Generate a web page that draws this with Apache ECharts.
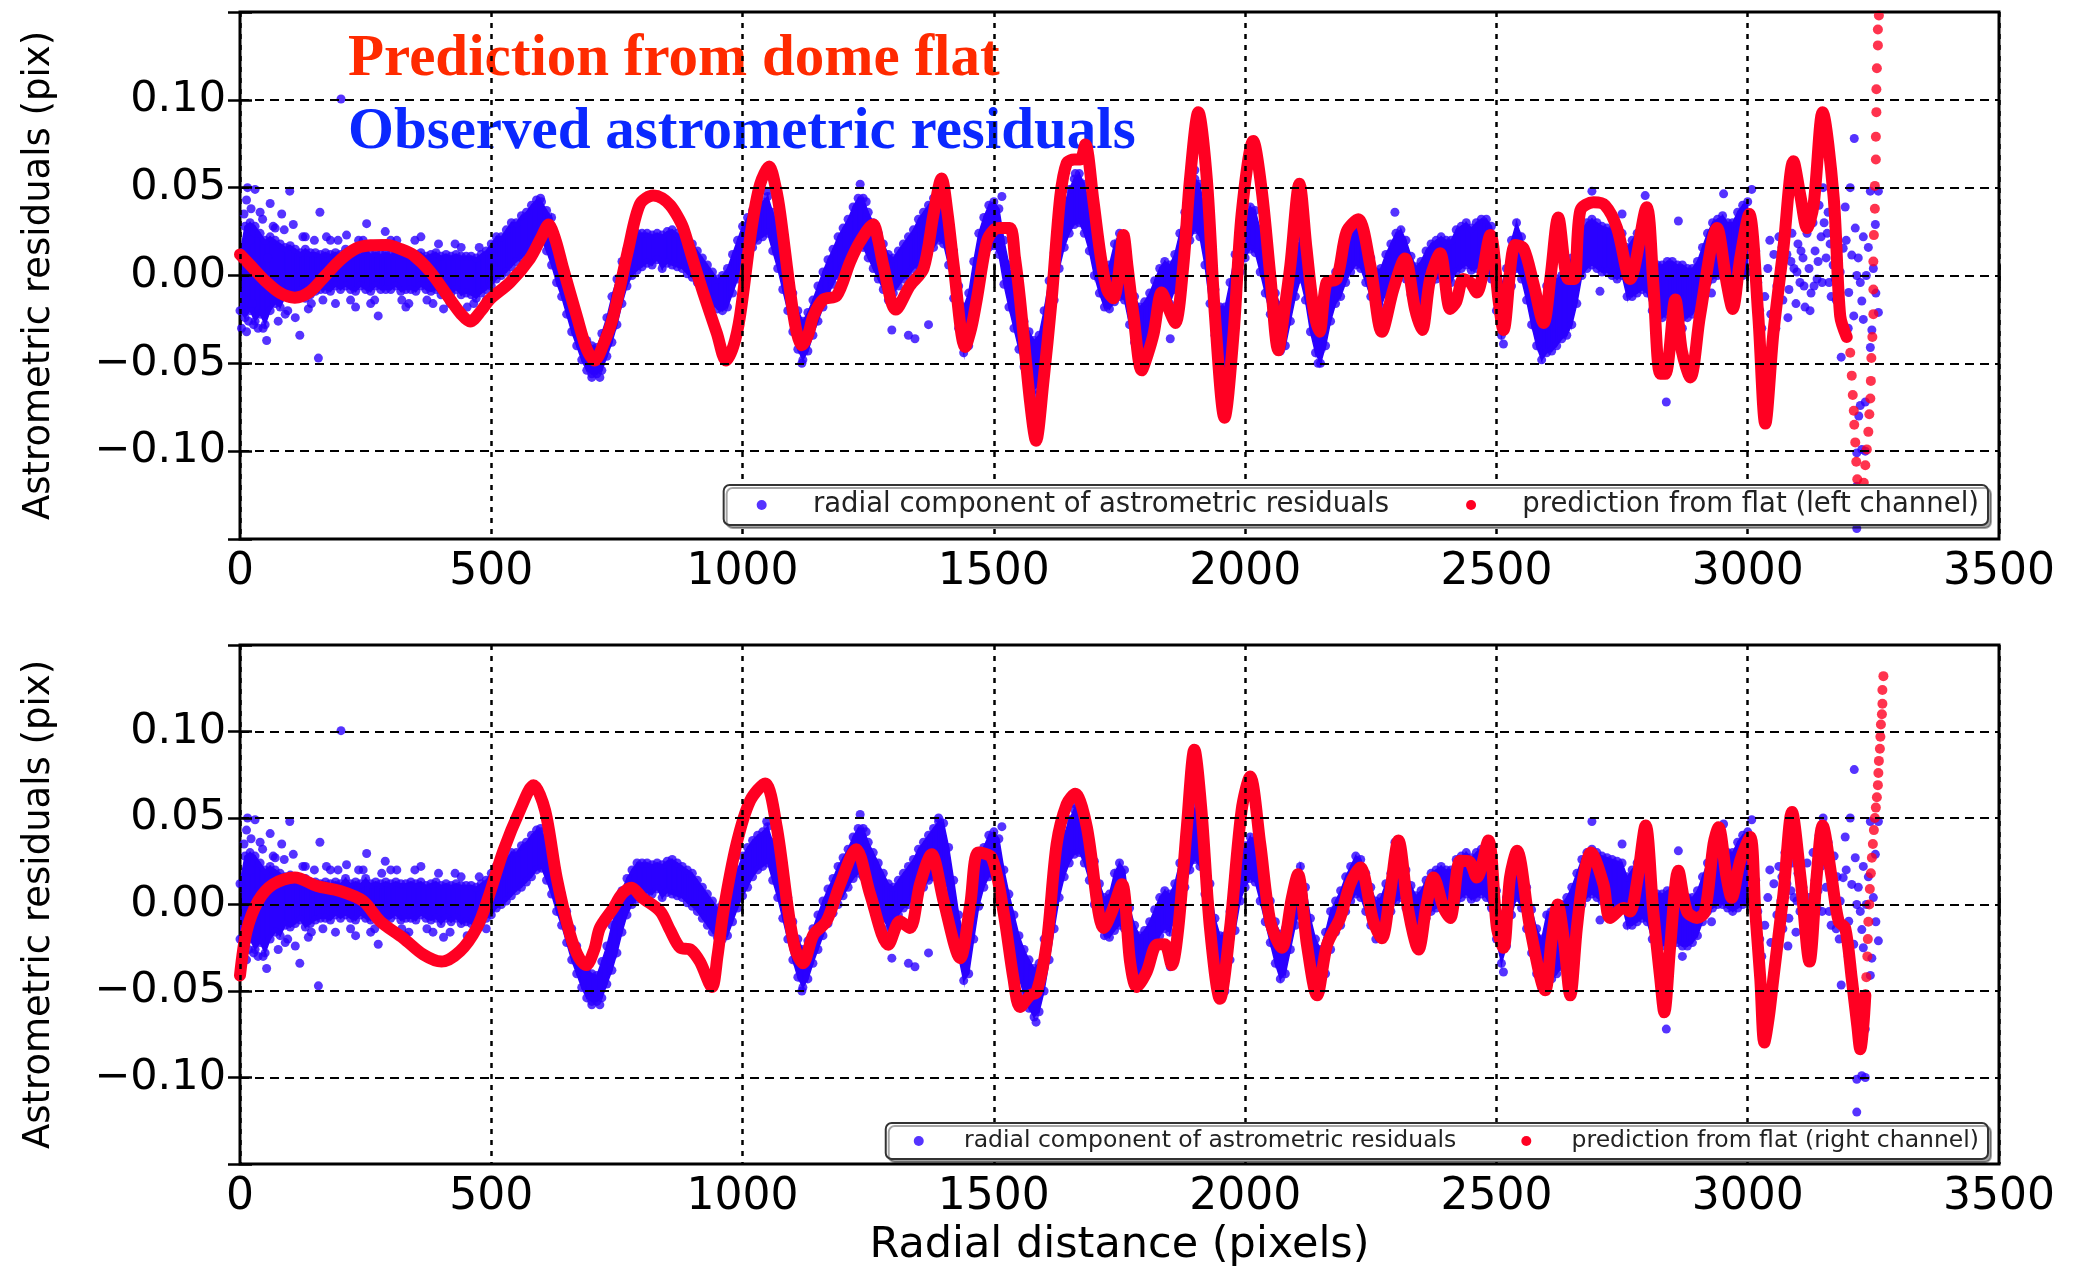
<!DOCTYPE html>
<html>
<head>
<meta charset="utf-8">
<script src="https://cdn.jsdelivr.net/npm/echarts@6.0.0/dist/echarts.min.js"></script>
<style>
html,body{margin:0;padding:0;background:#fff;}
#chart{width:2077px;height:1268px;}
</style>
</head>
<body>
<div id="chart"></div>
<script>
// ---------- axis ticks ----------
const xTicks = [0, 500, 1000, 1500, 2000, 2500, 3000, 3500];
const yTickLabels = ['\u22120.10', '\u22120.05', '0.00', '0.05', '0.10'];

// ---------- observed residuals (blue): dense band, outer edges per column ----------
const bandX = [0,10,20,30,40,50,60,70,80,90,100,110,120,130,140,150,160,170,180,190,200,210,220,230,240,250,260,270,280,290,300,310,320,330,340,350,360,370,380,390,400,410,420,430,440,450,460,470,480,490,500,510,520,530,540,550,560,570,580,590,600,610,620,630,640,650,660,670,680,690,700,710,720,730,740,750,760,770,780,790,800,810,820,830,840,850,860,870,880,890,900,910,920,930,940,950,960,970,980,990,1000,1010,1020,1030,1040,1050,1060,1070,1080,1090,1100,1110,1120,1130,1140,1150,1160,1170,1180,1190,1200,1210,1220,1230,1240,1250,1260,1270,1280,1290,1300,1310,1320,1330,1340,1350,1360,1370,1380,1390,1400,1410,1420,1430,1440,1450,1460,1470,1480,1490,1500,1510,1520,1530,1540,1550,1560,1570,1580,1590,1600,1610,1620,1630,1640,1650,1660,1670,1680,1690,1700,1710,1720,1730,1740,1750,1760,1770,1780,1790,1800,1810,1820,1830,1840,1850,1860,1870,1880,1890,1900,1910,1920,1930,1940,1950,1960,1970,1980,1990,2000,2010,2020,2030,2040,2050,2060,2070,2080,2090,2100,2110,2120,2130,2140,2150,2160,2170,2180,2190,2200,2210,2220,2230,2240,2250,2260,2270,2280,2290,2300,2310,2320,2330,2340,2350,2360,2370,2380,2390,2400,2410,2420,2430,2440,2450,2460,2470,2480,2490,2500,2510,2520,2530,2540,2550,2560,2570,2580,2590,2600,2610,2620,2630,2640,2650,2660,2670,2680,2690,2700,2710,2720,2730,2740,2750,2760,2770,2780,2790,2800,2810,2820,2830,2840,2850,2860,2870,2880,2890,2900,2910,2920,2930,2940,2950,2960,2970,2980,2990,3000];
const bandHi = [
0.012,0.028,0.03,0.028,0.024,0.02,0.022,0.02,0.018,0.016,
0.017,0.015,0.013,0.015,0.013,0.013,0.012,0.013,0.012,0.013,
0.012,0.015,0.012,0.013,0.012,0.015,0.012,0.013,0.012,0.013,
0.012,0.013,0.012,0.012,0.013,0.012,0.013,0.011,0.012,0.013,
0.011,0.012,0.011,0.012,0.011,0.011,0.011,0.01,0.012,0.014,
0.018,0.022,0.022,0.026,0.03,0.03,0.034,0.036,0.04,0.043,
0.042,0.037,0.033,0.02,0.006,-0.004,-0.014,-0.024,-0.032,-0.037,
-0.04,-0.041,-0.033,-0.024,-0.012,-0.002,0.008,0.015,0.02,0.024,
0.024,0.024,0.023,0.024,0.023,0.025,0.026,0.024,0.022,0.02,
0.018,0.014,0.01,0.006,0.002,-0.002,0.0,0.004,0.012,0.02,
0.028,0.033,0.037,0.04,0.042,0.045,0.036,0.028,0.016,0.004,
-0.01,-0.02,-0.026,-0.021,-0.014,-0.006,0.002,0.009,0.015,0.022,
0.027,0.032,0.039,0.044,0.044,0.036,0.03,0.024,0.018,0.012,
0.01,0.014,0.018,0.022,0.026,0.032,0.036,0.04,0.044,0.048,
0.047,0.033,0.014,-0.006,-0.018,-0.01,0.008,0.024,0.033,0.04,
0.042,0.038,0.02,0.006,-0.006,-0.018,-0.026,-0.032,-0.037,-0.034,
-0.02,-0.003,0.013,0.028,0.04,0.049,0.055,0.058,0.052,0.04,
0.025,0.012,0.004,0.006,0.018,0.024,0.02,-0.002,-0.012,-0.018,
-0.015,-0.01,-0.003,0.004,0.008,0.006,0.012,0.024,0.036,0.046,
0.055,0.052,0.034,0.012,-0.008,-0.018,-0.018,-0.004,0.012,0.026,
0.034,0.039,0.037,0.026,0.014,0.002,-0.01,-0.017,-0.014,-0.002,
0.012,0.022,0.01,-0.008,-0.02,-0.026,-0.016,-0.004,0.002,0.008,
0.016,0.022,0.028,0.026,0.018,0.01,0.002,0.004,0.012,0.018,
0.024,0.026,0.02,0.011,0.005,0.008,0.014,0.018,0.02,0.022,
0.02,0.02,0.026,0.028,0.03,0.027,0.03,0.032,0.032,0.028,
0.008,-0.006,0.004,0.02,0.03,0.022,0.01,-0.003,-0.014,-0.02,
-0.006,-0.004,-0.002,0.0,0.004,0.01,0.018,0.026,0.03,0.032,
0.03,0.028,0.027,0.026,0.025,0.024,0.016,0.02,0.024,0.026,
0.016,0.008,0.006,0.006,0.008,0.008,0.006,0.006,0.004,0.004,
0.008,0.016,0.024,0.03,0.032,0.034,0.03,0.03,0.036,0.04,
0.042];
const bandLo = [
-0.02,-0.024,-0.02,-0.026,-0.022,-0.028,-0.02,-0.016,-0.018,-0.012,
-0.013,-0.011,-0.009,-0.013,-0.011,-0.009,-0.008,-0.008,-0.009,-0.006,
-0.008,-0.006,-0.008,-0.009,-0.006,-0.008,-0.009,-0.006,-0.008,-0.008,
-0.008,-0.006,-0.009,-0.008,-0.008,-0.009,-0.006,-0.008,-0.009,-0.008,
-0.011,-0.008,-0.01,-0.008,-0.011,-0.01,-0.011,-0.013,-0.01,-0.008,
-0.006,-0.002,0.0,0.002,0.005,0.008,0.01,0.013,0.016,0.02,
0.021,0.014,0.006,-0.004,-0.012,-0.022,-0.032,-0.04,-0.048,-0.054,
-0.056,-0.056,-0.054,-0.046,-0.038,-0.028,-0.016,-0.006,0.0,0.003,
0.005,0.007,0.006,0.009,0.004,0.007,0.006,0.005,0.004,0.001,
-0.001,-0.004,-0.008,-0.012,-0.016,-0.019,-0.02,-0.018,-0.01,-0.002,
0.005,0.01,0.016,0.02,0.022,0.024,0.014,0.004,-0.008,-0.02,
-0.032,-0.042,-0.048,-0.043,-0.034,-0.026,-0.018,-0.011,-0.005,0.0,
0.005,0.01,0.015,0.018,0.016,0.01,0.004,-0.002,-0.008,-0.014,
-0.01,-0.006,-0.002,0.0,0.004,0.006,0.01,0.014,0.016,0.02,
0.018,0.006,-0.013,-0.03,-0.044,-0.04,-0.02,-0.001,0.01,0.016,
0.017,0.012,-0.005,-0.018,-0.03,-0.042,-0.052,-0.06,-0.065,-0.062,
-0.05,-0.032,-0.014,0.004,0.016,0.024,0.029,0.03,0.024,0.014,
0.0,-0.01,-0.018,-0.019,-0.015,-0.012,-0.014,-0.028,-0.038,-0.046,
-0.042,-0.033,-0.026,-0.018,-0.014,-0.016,-0.008,0.002,0.01,0.02,
0.026,0.022,0.006,-0.016,-0.034,-0.046,-0.05,-0.032,-0.015,0.002,
0.01,0.015,0.013,0.002,-0.01,-0.022,-0.034,-0.043,-0.04,-0.026,
-0.012,-0.002,-0.014,-0.032,-0.044,-0.05,-0.04,-0.026,-0.016,-0.012,
-0.004,0.002,0.006,0.004,-0.004,-0.012,-0.02,-0.018,-0.01,-0.004,
0.002,0.004,-0.002,-0.011,-0.017,-0.016,-0.008,-0.004,-0.002,0.0,
-0.004,-0.004,0.002,0.004,0.006,0.003,0.004,0.006,0.004,-0.002,
-0.02,-0.034,-0.024,-0.006,0.004,-0.002,-0.014,-0.028,-0.04,-0.048,
-0.044,-0.043,-0.04,-0.036,-0.034,-0.028,-0.016,0.0,0.004,0.006,
0.004,0.002,0.002,0.0,-0.002,0.0,-0.012,-0.012,-0.01,-0.008,
-0.01,-0.02,-0.024,-0.024,-0.022,-0.022,-0.022,-0.024,-0.024,-0.022,
-0.018,-0.01,-0.004,-0.002,0.0,0.0,-0.002,-0.004,-0.002,0.0,
0.002];

// ---------- observed residuals (blue): isolated / sparse points ----------
const blueExX = [3,8,13,13,17,15,22,27,30,36,45,46,53,60,66,70,76,83,90,99,106,119,125,136,148,156,159,172,190,201,212,236,252,260,275,289,312,336,360,384,405,428,452,476,300,330,230,180,110,40,20,25,55,88,95,130,142,165,195,220,245,268,282,322,348,372,395,418,440,465,490,
598,700,716,1048,1118,1234,1246,1297,1330,1343,1370,1390,1516,1584,1662,1851,1900,1955,2145,2298,2514,2690,2706,2750,2796,2838,2862,2952,2928,2870,
3008,3012,3016,3020,3024,3028,3034,3040,3046,3052,3058,3062,3066,3070,3074,3078,3082,3088,3092,3096,3100,3104,3110,3114,3118,3122,3126,3130,3134,3138,3142,3146,3150,3152,3156,3160,3164,3166,3170,3174,3178,3182,3186,3184,3190,3194,3201,3204,3207,3211,3212,3214,3217,3224,3227,3230,3230,3244,3260,3254,3260,3247,3244,3234,3224,3221,3217,3227,3234,3217,3217,3196,3200,3220,3236,3240,3250,3255,
3044,3056,3068,3080,3086,3098,3106,3112,3124,3132,3140,3148,3158,3162,3172,3176];
const blueExY = [-0.03,0.035,0.043,-0.032,-0.026,0.05,0.038,-0.028,0.049,-0.03,0.032,-0.03,-0.037,0.041,0.028,0.027,-0.026,0.035,-0.022,0.048,0.029,-0.034,0.022,-0.019,0.02,-0.047,0.036,0.022,-0.016,0.1005,0.023,0.02,0.0295,-0.016,-0.023,0.025,0.02,-0.016,0.022,-0.016,-0.019,0.018,-0.018,0.016,0.02,-0.018,-0.018,0.02,-0.024,0.036,0.02,-0.016,0.01,0.026,-0.02,0.022,-0.016,-0.014,0.02,-0.014,0.02,-0.014,0.018,-0.014,0.02,-0.014,0.018,-0.016,0.016,-0.016,-0.014,
0.044,-0.058,-0.058,0.048,-0.05,0.052,0.042,-0.031,-0.034,-0.036,-0.028,0.05,0.045,-0.068,0.058,-0.036,0.06,-0.052,-0.05,0.036,-0.039,0.048,-0.009,0.035,0.0455,-0.072,0.031,0.0465,-0.01,-0.03,
0.049,0.02,0.014,-0.004,-0.02,-0.03,-0.012,0.004,-0.022,0.012,-0.006,0.022,0.002,-0.014,0.03,0.012,-0.008,0.024,0.004,-0.016,0.018,-0.004,0.01,-0.018,0.024,0.004,-0.01,0.03,0.014,-0.002,0.04,0.022,0.05,0.03,0.01,0.036,0.018,-0.012,0.006,-0.002,0.016,-0.02,-0.0465,0.002,0.0155,0.039,-0.0097,0.05,0.0116,-0.023,0.078,0.027,0.0,-0.004,-0.0145,-0.025,0.022,0.048,0.048,0.029,-0.021,-0.031,-0.041,-0.072,-0.074,-0.08,-0.101,-0.099,-0.1,-0.12,-0.144,0.02,-0.03,0.01,0.0,0.016,0.004,-0.01,
0.02,-0.03,0.016,-0.024,0.008,0.002,0.014,-0.006,-0.02,-0.006,0.008,-0.004,0.024,-0.004,0.028,-0.014];

// ---------- prediction from flat, left channel (top panel) ----------
const redLeftX = [0,20,50,80,109,140,170,200,232,260,292,320,345,379,418,440,458,480,497,537,577,600,614,628,643,670,690,706,722,743,773,796,822,840,856,870,882,900,922,949,967,982,995,1018,1035,1053,1066,1075,1094,1106,1118,1130,1141,1161,1187,1214,1234,1260,1270,1280,1305,1333,1360,1380,1396,1408,1420,1443,1455,1466,1486,1500,1512,1532,1542,1552,1572,1584,1598,1615,1632,1645,1660,1672,1682,1698,1712,1725,1738,1748,1758,1766,1778,1794,1806,1818,1834,1848,1861,1877,1890,1907,1924,1940,1959,1977,1993,2016,2033,2050,2066,2078,2090,2108,2122,2136,2148,2162,2182,2202,2225,2249,2272,2295,2318,2338,2352,2368,2388,2408,2420,2434,2448,2461,2488,2504,2514,2537,2554,2574,2594,2608,2623,2643,2655,2667,2693,2716,2740,2766,2799,2812,2826,2836,2856,2869,2886,2905,2939,2958,2970,2985,3003,3021,3035,3051,3071,3091,3105,3118,3131,3149,3171,3184,3197];
const redLeftY = [0.012,0.006,-0.003,-0.01,-0.0126,-0.009,0.0,0.009,0.0155,0.0172,0.0174,0.015,0.0116,0.002,-0.0136,-0.022,-0.0262,-0.02,-0.0136,-0.004,0.0097,0.022,0.029,0.02,0.004,-0.023,-0.042,-0.0484,-0.04,-0.023,0.0155,0.0407,0.0455,0.044,0.04,0.034,0.027,0.01,-0.01,-0.033,-0.0484,-0.04,-0.023,0.027,0.052,0.062,0.05,0.035,-0.0078,-0.03,-0.0397,-0.034,-0.023,-0.0136,-0.0116,0.0078,0.0194,0.029,0.02,0.0058,-0.0194,-0.0058,0.0039,0.035,0.0552,0.035,0.0058,-0.0407,-0.03,-0.0136,0.0194,0.026,0.027,0.027,0.01,-0.0136,-0.0717,-0.094,-0.062,-0.0136,0.0446,0.064,0.066,0.066,0.0746,0.0426,0.012,-0.0078,-0.013,0.0,0.023,0.005,-0.023,-0.054,-0.045,-0.033,-0.0097,-0.019,-0.027,0.0058,0.054,0.093,0.054,-0.023,-0.081,-0.033,0.035,0.0766,0.0484,0.0,-0.0426,-0.02,0.0058,0.0523,0.0155,-0.019,-0.032,-0.0039,-0.002,0.025,0.032,0.0058,-0.032,-0.0078,0.0097,-0.019,-0.031,-0.002,0.0126,-0.019,-0.015,-0.002,-0.004,-0.0097,0.023,-0.0136,-0.031,0.0174,0.0155,-0.005,-0.027,0.0,0.033,-0.002,-0.002,0.037,0.0417,0.04,0.027,-0.002,0.0388,-0.004,-0.056,-0.056,-0.0136,-0.043,-0.058,-0.023,0.027,-0.004,-0.019,0.0097,0.035,-0.023,-0.0843,-0.033,0.0155,0.065,0.045,0.027,0.04,0.093,0.0446,-0.023,-0.035];
// separated dots of the steep final swing (left channel)
const redLeftTailX = [3204,3207,3209,3211,3212,3214,3216,3218,3220,3223,3227,3231,3234,3237,3240,3242,3244,3245,3246,3248,3250,3250,3250,3251,3253,3253,3255,3255,3256,3256,3257,3259,3259,3261];
const redLeftTailY = [-0.044,-0.057,-0.068,-0.077,-0.085,-0.095,-0.106,-0.116,-0.126,-0.134,-0.128,-0.118,-0.108,-0.099,-0.089,-0.079,-0.07,-0.06,-0.047,-0.035,-0.022,-0.008,0.008,0.023,0.038,0.051,0.066,0.079,0.093,0.106,0.118,0.131,0.14,0.148];

// ---------- prediction from flat, right channel (bottom panel) ----------
const redRightX = [0,13,36,66,109,153,199,245,279,325,365,401,438,471,494,524,557,584,607,630,657,675,689,705,716,743,760,779,800,836,856,876,896,915,939,950,962,988,1015,1045,1068,1091,1105,1120,1141,1167,1194,1226,1254,1290,1313,1333,1353,1376,1400,1433,1453,1469,1496,1519,1539,1552,1572,1585,1605,1625,1645,1662,1685,1708,1718,1735,1755,1771,1784,1804,1824,1840,1854,1867,1884,1899,1913,1930,1950,1970,1993,2010,2030,2050,2073,2093,2105,2123,2143,2163,2189,2209,2229,2255,2272,2288,2305,2325,2345,2361,2375,2395,2408,2428,2445,2461,2484,2501,2514,2527,2541,2567,2597,2610,2622,2634,2647,2660,2673,2688,2713,2726,2753,2766,2779,2797,2812,2826,2834,2846,2862,2879,2899,2915,2932,2942,2958,2968,2985,3005,3015,3025,3033,3042,3051,3071,3088,3105,3123,3137,3149,3167,3181,3194,3207,3218,3224,3230,3234];
const redRightY = [-0.041,-0.0156,0.002,0.0117,0.0156,0.0107,0.0078,0.002,-0.0097,-0.0195,-0.029,-0.033,-0.027,-0.0136,0.0039,0.031,0.0545,0.069,0.0545,0.0156,-0.0175,-0.031,-0.035,-0.026,-0.0136,-0.002,0.006,0.0097,0.004,-0.0039,-0.015,-0.025,-0.026,-0.033,-0.0477,-0.03,-0.0039,0.035,0.06,0.07,0.0447,-0.0039,-0.026,-0.034,-0.0175,-0.0097,0.0117,0.032,0.0058,-0.0233,-0.0097,-0.0136,0.0117,0.029,0.002,-0.031,0.0,0.03,0.027,-0.0039,-0.0428,-0.0593,-0.0525,-0.0506,-0.023,0.035,0.058,0.064,0.0447,-0.0039,-0.0136,-0.004,0.0117,-0.033,-0.0477,-0.039,-0.0233,-0.023,-0.035,-0.0136,0.0447,0.0895,0.0545,-0.0136,-0.0545,-0.0136,0.0545,0.074,0.035,-0.0097,-0.025,0.0039,0.0175,-0.0233,-0.0525,-0.0233,-0.0078,0.0117,0.0214,-0.0097,-0.0195,0.0058,0.037,-0.0039,-0.026,0.0,0.0156,-0.002,-0.0078,0.0253,0.025,0.0156,0.037,-0.0136,-0.025,0.0156,0.031,-0.0136,-0.0496,-0.02,0.0,-0.02,-0.0525,-0.0136,0.0156,0.03,0.0117,-0.0078,-0.002,-0.004,0.0117,0.0457,-0.0039,-0.0428,-0.0623,-0.0233,0.0195,-0.0039,-0.0078,-0.004,0.035,0.0447,0.0156,0.0039,0.0253,0.039,-0.0039,-0.0428,-0.0798,-0.065,-0.0428,0.0058,0.0535,0.0156,-0.033,0.0156,0.0457,0.0156,-0.0097,-0.0136,-0.0428,-0.07,-0.0837,-0.07,-0.0525];
// separated dots of the steep final rise (right channel)
const redRightTailX = [3236,3238,3239,3240,3242,3243,3245,3247,3249,3251,3253,3255,3257,3259,3260,3261,3263,3264,3265,3267,3268,3268,3270];
const redRightTailY = [-0.042,-0.03,-0.02,-0.01,0.0,0.009,0.018,0.027,0.035,0.043,0.05,0.056,0.062,0.069,0.076,0.083,0.09,0.097,0.104,0.11,0.116,0.124,0.132];

// ---------- styling ----------
const BLUE = '#2a00ff';
const RED = '#ff0022';
const BLUE_NAME = 'radial component of astrometric residuals';
const LEFT_NAME = 'prediction from flat (left channel)';
const RIGHT_NAME = 'prediction from flat (right channel)';
const SANS = 'DejaVu Sans';

const zip = (xs, ys) => xs.map((x, i) => [x, ys[i]]);

const bluePoints = zip(bandX, bandHi).concat(zip(bandX, bandLo), zip(blueExX, blueExY));
// consecutive column pairs of the band, each filled as one quad
const bandSegs = bandX.slice(0, -1).map((x, i) => [x, bandLo[i], bandHi[i], bandX[i + 1], bandLo[i + 1], bandHi[i + 1]]);

function panelSeries(p, redName, rx, ry, tx, ty) {
  return [
    { type: 'custom', coordinateSystem: 'cartesian2d', xAxisIndex: 2 * p, yAxisIndex: 2 * p,
      data: bandSegs, clip: true, silent: true, z: 2,
      encode: { x: [0, 3], y: [1, 2, 4, 5] },
      renderItem: (params, api) => {
        const a = api.coord([api.value(0), api.value(2)]);
        const b = api.coord([api.value(3), api.value(5)]);
        const c = api.coord([api.value(3), api.value(4)]);
        const d = api.coord([api.value(0), api.value(1)]);
        return { type: 'polygon', shape: { points: [a, b, c, d] }, style: { fill: BLUE, stroke: BLUE, lineWidth: 1.5 } };
      } },
    { type: 'scatter', name: BLUE_NAME, xAxisIndex: 2 * p, yAxisIndex: 2 * p,
      data: bluePoints, symbol: 'circle', symbolSize: 9, itemStyle: { color: BLUE }, z: 3, silent: true },
    { type: 'line', name: redName, xAxisIndex: 2 * p, yAxisIndex: 2 * p,
      data: zip(rx, ry), smooth: 0.3, symbol: 'none', color: RED, z: 4, silent: true,
      lineStyle: { color: RED, width: 12, cap: 'round', join: 'round' } },
    { type: 'scatter', name: redName, xAxisIndex: 2 * p, yAxisIndex: 2 * p,
      data: zip(tx, ty), symbol: 'circle', symbolSize: 10, itemStyle: { color: RED }, z: 4, silent: true }
  ];
}

const gridLine = { show: true, lineStyle: { color: '#000', width: 2.5, type: [5, 6] } };
const hGridLine = { show: true, lineStyle: { color: '#000', width: 2.2, type: [9, 6] } };
const tick = { show: true, inside: true, length: 12, lineStyle: { color: '#000', width: 2.5 } };

function xAxes(g, withName) {
  const base = { gridIndex: g, type: 'value', min: xTicks[0], max: xTicks[xTicks.length - 1], interval: xTicks[1] - xTicks[0], z: 6 };
  return [
    Object.assign({}, base, {
      position: 'bottom', axisLine: { show: false }, axisTick: tick, splitLine: gridLine,
      axisLabel: { fontSize: 44, color: '#000', fontFamily: SANS, margin: 12, formatter: v => String(v) },
      name: withName ? 'Radial distance (pixels)' : '', nameLocation: 'middle', nameGap: 60,
      nameTextStyle: { fontSize: 43, color: '#000', fontFamily: SANS }
    }),
    Object.assign({}, base, {
      position: 'top', axisLine: { show: false }, axisTick: tick, splitLine: { show: false }, axisLabel: { show: false }
    })
  ];
}
function yAxes(g) {
  const base = { gridIndex: g, type: 'value', min: -0.15, max: 0.15, interval: 0.05, z: 6 };
  return [
    Object.assign({}, base, {
      position: 'left', axisLine: { show: false }, axisTick: tick, splitLine: hGridLine,
      axisLabel: {
        fontSize: 43, color: '#000', fontFamily: SANS, margin: 14,
        formatter: v => {
          const r = Math.round(v * 100) / 100;
          const lbl = (r < 0 ? '\u2212' : '') + Math.abs(r).toFixed(2);
          return yTickLabels.indexOf(lbl) >= 0 ? lbl : '';
        }
      },
      name: 'Astrometric residuals (pix)', nameLocation: 'middle', nameGap: 182,
      nameTextStyle: { fontSize: 37, color: '#000', fontFamily: SANS }
    }),
    Object.assign({}, base, {
      position: 'right', axisLine: { show: false }, axisTick: tick, splitLine: { show: false }, axisLabel: { show: false }
    })
  ];
}

function legendFor(names, top, fs, pad, gap) {
  return {
    data: names, orient: 'horizontal', right: 89, top: top, z: 20,
    icon: 'circle', itemWidth: 10, itemHeight: 10, itemGap: gap,
    padding: pad, backgroundColor: '#fff', borderColor: '#333', borderWidth: 2, borderRadius: 6,
    shadowColor: 'rgba(0,0,0,0.35)', shadowBlur: 0, shadowOffsetX: 3, shadowOffsetY: 3,
    selectedMode: false,
    formatter: n => '\u2002\u2002\u2002' + n,
    textStyle: { fontSize: fs, color: '#222', fontFamily: SANS }
  };
}

const option = {
  animation: false,
  backgroundColor: '#fff',
  grid: [
    { left: 240, top: 12, width: 1759, height: 527, show: true, borderColor: '#000', borderWidth: 3, backgroundColor: 'rgba(0,0,0,0)' },
    { left: 240, top: 645, width: 1759, height: 524, show: true, borderColor: '#000', borderWidth: 3, backgroundColor: 'rgba(0,0,0,0)' }
  ],
  xAxis: xAxes(0, false).concat(xAxes(1, true)),
  yAxis: yAxes(0).concat(yAxes(1)),
  legend: [
    legendFor([BLUE_NAME, LEFT_NAME], 485, 27.5, [6, 9, 6, 33], 77),
    legendFor([BLUE_NAME, RIGHT_NAME], 1123, 23.5, [6, 9, 6, 28], 65)
  ],
  graphic: [
    { type: 'text', x: 348, y: 60, z: 3, silent: true,
      style: { text: 'Prediction from dome flat', font: 'bold 59px "Liberation Serif"', fill: '#ff2a00', verticalAlign: 'middle' } },
    { type: 'text', x: 348, y: 133, z: 3, silent: true,
      style: { text: 'Observed astrometric residuals', font: 'bold 59px "Liberation Serif"', fill: '#0a28ff', verticalAlign: 'middle' } }
  ],
  series: panelSeries(0, LEFT_NAME, redLeftX, redLeftY, redLeftTailX, redLeftTailY)
    .concat(panelSeries(1, RIGHT_NAME, redRightX, redRightY, redRightTailX, redRightTailY))
};

const chart = echarts.init(document.getElementById('chart'), null, { renderer: 'canvas', width: 2077, height: 1268 });
chart.setOption(option);
</script>
</body>
</html>
